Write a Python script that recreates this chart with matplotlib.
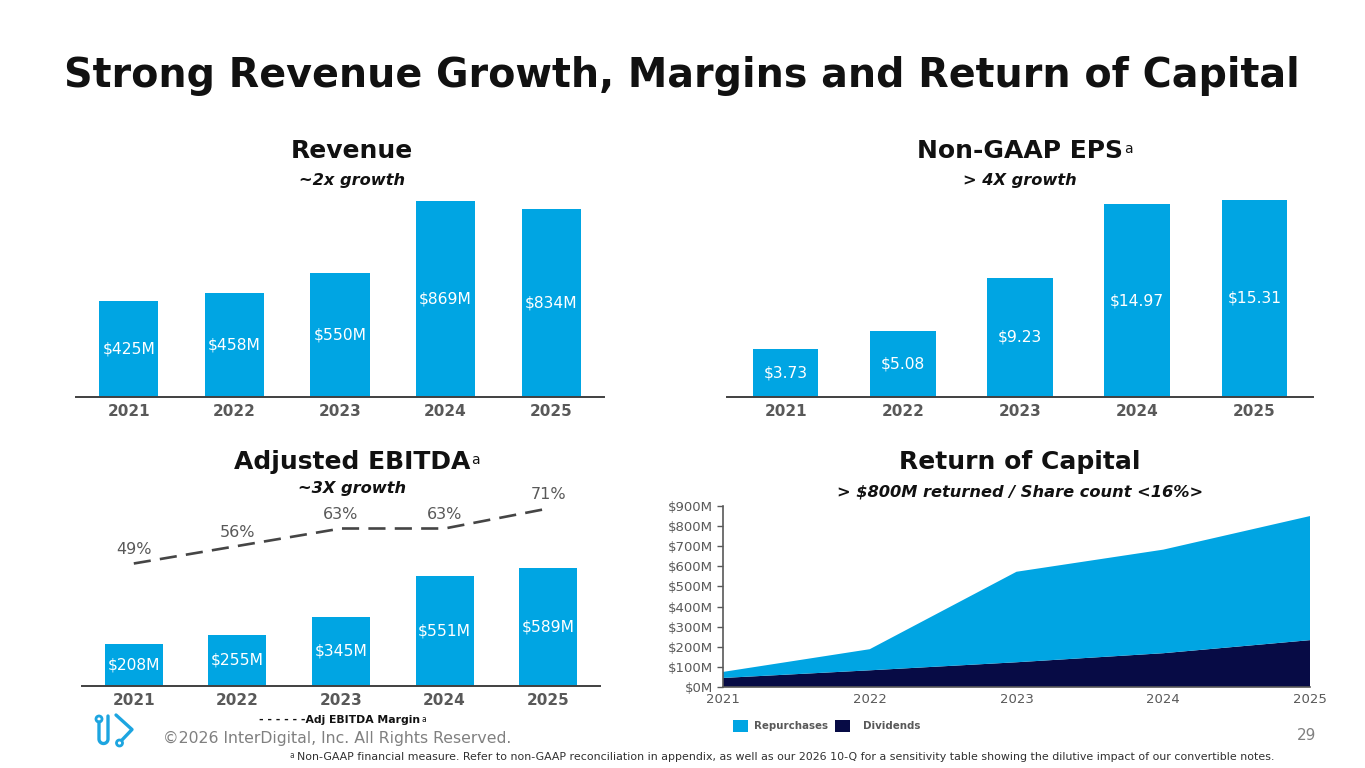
import matplotlib
matplotlib.use("Agg")
import matplotlib.pyplot as plt
import matplotlib.patches as patches
import numpy as np

W, H = 1365, 768

years = ["2021", "2022", "2023", "2024", "2025"]
revenue = [425, 458, 550, 869, 834]
eps = [3.73, 5.08, 9.23, 14.97, 15.31]
ebitda = [208, 255, 345, 551, 589]
margin = [49, 56, 63, 63, 71]
roc_years = [2021, 2022, 2023, 2024, 2025]
dividends = [45, 83, 123, 168, 233]
repurchases = [30, 105, 450, 515, 617]

BLUE = "#00A5E3"
NAVY = "#070B45"
GREY = "#595959"
DARK = "#111111"

plt.rcParams["font.family"] = ["DejaVu Sans"]

fig = plt.figure(figsize=(W / 100, H / 100), dpi=100)
fig.patch.set_facecolor("white")


def px_axes(left, top, right, bottom):
    return fig.add_axes([left / W, 1 - bottom / H, (right - left) / W, (bottom - top) / H])


def bar_panel(left, right, top, bottom, values, px_per_unit, fmt):
    ax = px_axes(left, top, right, bottom)
    x = np.arange(len(values))
    ax.bar(x, values, width=0.56, color=BLUE, zorder=2)
    ax.set_xlim(-0.5, 4.5)
    ax.set_ylim(0, (bottom - top) / px_per_unit)
    for xi, v in zip(x, values):
        ax.text(xi, v / 2, fmt(v), ha="center", va="center", color="white", fontsize=11.2, zorder=3)
    ax.set_xticks(x)
    ax.set_xticklabels(years, fontsize=11, fontweight="bold", color=GREY)
    ax.tick_params(axis="x", length=0, pad=5)
    ax.set_yticks([])
    for s in ["top", "right", "left"]:
        ax.spines[s].set_visible(False)
    ax.spines["bottom"].set_color("#404040")
    ax.spines["bottom"].set_linewidth(1.4)
    ax.patch.set_alpha(0)
    return ax


# Revenue
bar_panel(76, 604, 190, 396.7, revenue, 196 / 869, lambda v: f"${v}M")
# Non-GAAP EPS
bar_panel(727, 1313, 190, 396.7, eps, 196.7 / 15.31, lambda v: f"${v:.2f}")
# Adjusted EBITDA
ax_e = bar_panel(82, 600, 480, 686, ebitda, 118 / 589, lambda v: f"${v}M")
ax_m = ax_e.twinx()
ax_m.set_ylim(0, (686 - 480) / 2.5)
ax_m.plot(np.arange(5), margin, color="#454545", lw=1.9, dashes=(6.5, 3.5), zorder=4)
for xi, m in enumerate(margin):
    ax_m.annotate(f"{m}%", (xi, m), xytext=(0, 10), textcoords="offset points",
                  ha="center", va="center", fontsize=11.5, color=GREY)
ax_m.set_yticks([])
for s in ax_m.spines.values():
    s.set_visible(False)

# Return of Capital
ax_r = px_axes(723, 506, 1310, 687)
ax_r.stackplot(roc_years, dividends, repurchases, colors=[NAVY, BLUE], linewidth=0)
ax_r.set_xlim(2021, 2025)
ax_r.set_ylim(0, 900)
ax_r.set_yticks(range(0, 901, 100))
ax_r.set_yticklabels([f"${v}M" for v in range(0, 901, 100)], fontsize=9.5, color=GREY)
ax_r.set_xticks(roc_years)
ax_r.set_xticklabels([str(y) for y in roc_years], fontsize=9.5, color=GREY)
ax_r.tick_params(axis="x", length=0, pad=4)
ax_r.tick_params(axis="y", length=4, width=1, color="#595959", pad=3)
for s in ["top", "right"]:
    ax_r.spines[s].set_visible(False)
for s in ["left", "bottom"]:
    ax_r.spines[s].set_color("#595959")
    ax_r.spines[s].set_linewidth(1.2)

# overlay in pixel coordinates for text and decorations
ov = fig.add_axes([0, 0, 1, 1])
ov.set_xlim(0, W)
ov.set_ylim(H, 0)
ov.axis("off")
ov.patch.set_alpha(0)


def sup(txt, size=9, dy=-3):
    ov.annotate("a", xy=(1, 1), xycoords=txt, xytext=(1, dy), textcoords="offset points",
                ha="left", va="top", fontsize=size, color=txt.get_color(), fontweight="normal")


title = ov.text(682, 86.7, "Strong Revenue Growth, Margins and Return of Capital",
                ha="center", va="baseline", fontsize=28.5, fontweight="bold", color=DARK)

heads = [
    (352, 151, "Revenue", False, 180, "~2x growth"),
    (1020, 151, "Non-GAAP EPS", True, 180, "> 4X growth"),
    (352, 462, "Adjusted EBITDA", True, 489, "~3X growth"),
    (1020, 462, "Return of Capital", False, 492, "> $800M returned / Share count <16%>"),
]
for x, y, head, has_sup, y2, sub in heads:
    t = ov.text(x, y, head, ha="center", va="center", fontsize=18, fontweight="bold", color=DARK)
    if has_sup:
        sup(t, size=10, dy=-2)
    ov.text(x, y2, sub, ha="center", va="center", fontsize=11.7, fontweight="bold",
            style="italic", color=DARK)

# EBITDA margin legend
lg = ov.text(340, 720, "- - - - - -Adj EBITDA Margin", ha="center", va="center",
             fontsize=7.8, fontweight="bold", color=DARK)
sup(lg, size=5.5, dy=0)

# Return of capital legend
ov.add_patch(patches.Rectangle((733, 720), 15, 12, color=BLUE, lw=0))
ov.text(754, 726, "Repurchases", ha="left", va="center", fontsize=7.4, fontweight="bold", color=GREY)
ov.add_patch(patches.Rectangle((835, 720), 15, 12, color=NAVY, lw=0))
ov.text(863, 726, "Dividends", ha="left", va="center", fontsize=7.4, fontweight="bold", color=GREY)

# footer
ov.text(163, 738, "\u00a92026 InterDigital, Inc. All Rights Reserved.", ha="left", va="center",
        fontsize=11.3, color="#808080")
ov.text(1307, 735, "29", ha="center", va="center", fontsize=11, color="#808080")
ov.text(290, 755, "a", ha="left", va="center", fontsize=5.5, color="#404040")
ov.text(297, 757, "Non-GAAP financial measure. Refer to non-GAAP reconciliation in appendix, as well as our "
        "2026 10-Q for a sensitivity table showing the dilutive impact of our convertible notes.",
        ha="left", va="center", fontsize=7.95, color="#303030")

# logo
LOGO = "#1DA5E0"
ov.add_patch(patches.Circle((99, 719), 3, fill=False, ec=LOGO, lw=2))
t = np.linspace(np.pi, 2 * np.pi, 30)
ux = np.concatenate([[99], 103.5 + 4.5 * np.cos(t), [108]])
uy = np.concatenate([[722], 739 - 4.5 * np.sin(t), [716]])
ov.plot(ux, uy, color=LOGO, lw=2.4, solid_capstyle="round")
ov.plot([116, 132, 122], [715, 729.5, 740], color=LOGO, lw=2.4, solid_capstyle="round",
        solid_joinstyle="round")
ov.add_patch(patches.Circle((119.5, 743), 3, fill=False, ec=LOGO, lw=2))

fig.savefig("out.png", dpi=100)
